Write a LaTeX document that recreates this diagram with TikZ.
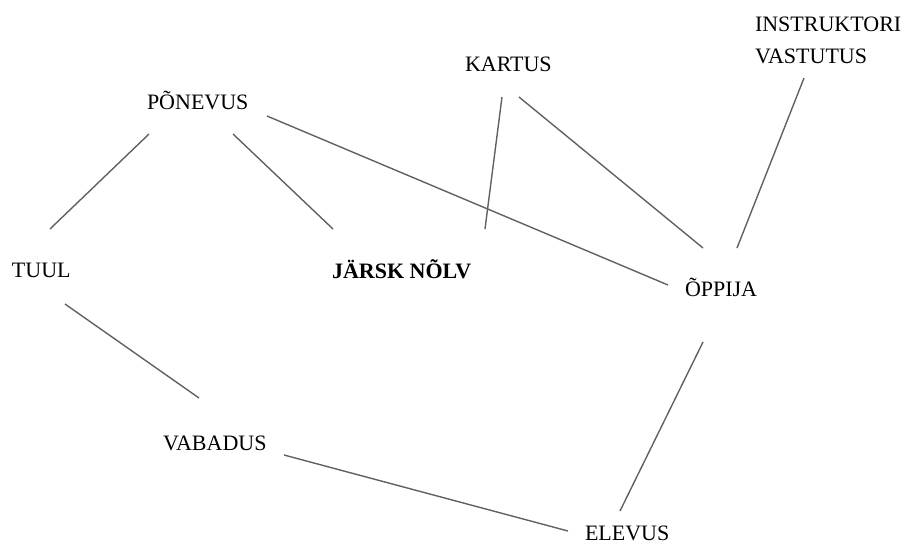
\documentclass[tikz,border=0pt]{standalone}
\usepackage{fontspec}
\setmainfont{Liberation Serif}
\begin{document}
\begin{tikzpicture}[x=1pt,y=-1pt,
  concept/.style={inner sep=0pt,outer sep=0pt,anchor=base west,
    font=\fontsize{22}{31.5}\selectfont},
  link/.style={draw=black!62,line width=1.4pt}]
\useasboundingbox (0,0) rectangle (901,543);

% concepts
\node[concept] (pon)    at (147,109)   {PÕNEVUS};
\node[concept] (kartus) at (465,71.5)  {KARTUS};
\node[concept,anchor=north west,align=left] (instr) at (755,17)
  {INSTRUKTORI\\VASTUTUS};
\node[concept] (tuul)   at (12,277.5)  {TUUL};
\node[concept,font=\fontsize{22}{31.5}\selectfont\bfseries] (jarsk) at (332,278) {JÄRSK NÕLV};
\node[concept] (oppija) at (685,296)   {ÕPPIJA};
\node[concept] (vab)    at (163,450)   {VABADUS};
\node[concept] (elevus) at (585,540)   {ELEVUS};

% links between concepts
\draw[link] ([shift={(2,25)}]pon.base west)     -- ([shift={(38,-48.5)}]tuul.base west);
\draw[link] ([shift={(86,25)}]pon.base west)    -- ([shift={(1,-49)}]jarsk.base west);
\draw[link] ([shift={(120,7)}]pon.base west)    -- ([shift={(-17,-11)}]oppija.base west);
\draw[link] ([shift={(37,25.5)}]kartus.base west) -- ([shift={(153,-49)}]jarsk.base west);
\draw[link] ([shift={(54,25.5)}]kartus.base west) -- ([shift={(18,-48)}]oppija.base west);
\draw[link] ([shift={(49,61)}]instr.north west) -- ([shift={(52,-48)}]oppija.base west);
\draw[link] ([shift={(53,26.5)}]tuul.base west) -- ([shift={(36,-52)}]vab.base west);
\draw[link] ([shift={(121,5)}]vab.base west)    -- ([shift={(-17,-9)}]elevus.base west);
\draw[link] ([shift={(18,46)}]oppija.base west) -- ([shift={(35,-29)}]elevus.base west);
\end{tikzpicture}
\end{document}
